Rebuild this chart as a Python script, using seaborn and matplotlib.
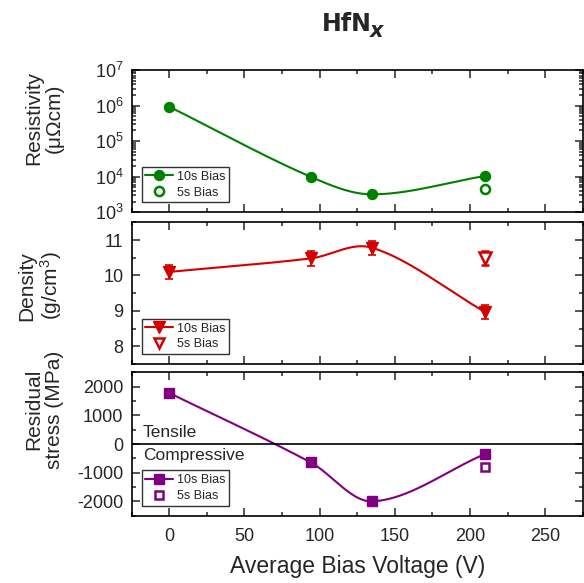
import numpy as np
import seaborn as sns
import matplotlib
matplotlib.use("Agg")
import matplotlib.pyplot as plt
from matplotlib.lines import Line2D
from matplotlib.ticker import LogLocator, MultipleLocator, NullFormatter

# data
bias = [0, 94, 135, 210]
bias_5s = [210]
resistivity = [9.3e5, 1.0e4, 3.2e3, 1.05e4]
resistivity_5s = [4.6e3]
density = [10.1, 10.48, 10.78, 8.97]
density_err = [0.2, 0.2, 0.2, 0.2]
density_5s = [10.5]
density_5s_err = [0.2]
stress = [1780, -640, -2000, -350]
stress_5s = [-800]

green = "#008000"
red = "#d40000"
purple = "#800080"

sns.set_style("ticks")
plt.rcParams["font.family"] = ["Liberation Sans", "DejaVu Sans"]
plt.rcParams["mathtext.fontset"] = "custom"
plt.rcParams["mathtext.rm"] = "Liberation Sans"
plt.rcParams["mathtext.it"] = "Liberation Sans:italic"
plt.rcParams["mathtext.bf"] = "Liberation Sans:bold"
plt.rcParams["axes.unicode_minus"] = False


def smooth(x, y, n=200):
    # cubic hermite through the points, tangents from neighbours
    x = np.asarray(x, float)
    y = np.asarray(y, float)
    m = np.zeros_like(y)
    m[0] = (y[1] - y[0]) / (x[1] - x[0])
    m[-1] = (y[-1] - y[-2]) / (x[-1] - x[-2])
    for k in range(1, len(x) - 1):
        m[k] = (y[k + 1] - y[k - 1]) / (x[k + 1] - x[k - 1])
    xs, ys = [], []
    for k in range(len(x) - 1):
        h = x[k + 1] - x[k]
        t = np.linspace(0, 1, n)
        h00 = 2 * t**3 - 3 * t**2 + 1
        h10 = t**3 - 2 * t**2 + t
        h01 = -2 * t**3 + 3 * t**2
        h11 = t**3 - t**2
        xs.append(x[k] + t * h)
        ys.append(h00 * y[k] + h10 * h * m[k] + h01 * y[k + 1] + h11 * h * m[k + 1])
    return np.concatenate(xs), np.concatenate(ys)


fig = plt.figure(figsize=(5.84, 5.83), dpi=100)
left, width = 0.2255, 0.7723
ax1 = fig.add_axes([left, 0.6358, width, 0.2441])
ax2 = fig.add_axes([left, 0.3756, width, 0.2431])
ax3 = fig.add_axes([left, 0.1154, width, 0.2460])

for ax in (ax1, ax2, ax3):
    ax.set_xlim(-25, 275)
    ax.xaxis.set_major_locator(MultipleLocator(50))
    ax.xaxis.set_minor_locator(MultipleLocator(25))
    ax.tick_params(which="both", direction="in", top=True, right=True,
                   width=1.1, labelsize=13, pad=6)
    ax.tick_params(which="major", length=6)
    ax.tick_params(which="minor", length=3)
    for s in ax.spines.values():
        s.set_linewidth(1.2)
        s.set_color("black")
    ax.grid(False)

ax1.tick_params(labelbottom=False)
ax2.tick_params(labelbottom=False)

lw = 1.5

# resistivity
xs, ys = smooth(bias, np.log10(resistivity))
sns.lineplot(x=xs, y=10**ys, ax=ax1, color=green, lw=lw, sort=False)
ax1.plot(bias, resistivity, "o", color=green, ms=7.2, ls="none")
ax1.plot(bias_5s, resistivity_5s, "o", mfc="white", mec=green, mew=1.8, ms=6.5, ls="none")
ax1.set_yscale("log")
ax1.set_ylim(1e3, 1e7)
ax1.yaxis.set_major_locator(LogLocator(base=10, numticks=10))
ax1.yaxis.set_minor_locator(LogLocator(base=10, subs=np.arange(2, 10), numticks=10))
ax1.yaxis.set_minor_formatter(NullFormatter())
ax1.set_ylabel("Resistivity\n(μΩcm)", fontsize=15, linespacing=1.1)
ax1.yaxis.set_label_coords(-0.15, 0.66)

# density
xs, ys = smooth(bias, density)
sns.lineplot(x=xs, y=ys, ax=ax2, color=red, lw=lw, sort=False)
ax2.errorbar(bias, density, yerr=density_err, fmt="v", color=red, ms=8.5,
             capsize=3, elinewidth=1.2, capthick=1.2)
ax2.errorbar(bias_5s, density_5s, yerr=density_5s_err, fmt="v", color=red,
             mfc="white", mec=red, mew=1.8, ms=8, capsize=3, elinewidth=1.2, capthick=1.2)
ax2.set_ylim(7.5, 11.5)
ax2.yaxis.set_major_locator(MultipleLocator(1))
ax2.yaxis.set_minor_locator(MultipleLocator(0.5))
ax2.set_ylabel("Density\n(g/cm$^3$)", fontsize=15, linespacing=1.1)
ax2.yaxis.set_label_coords(-0.15, 0.55)

# residual stress
xs, ys = smooth(bias, stress)
sns.lineplot(x=xs, y=ys, ax=ax3, color=purple, lw=lw, sort=False)
ax3.plot(bias, stress, "s", color=purple, ms=6.6, ls="none")
ax3.plot(bias_5s, stress_5s, "s", mfc="white", mec=purple, mew=1.8, ms=6, ls="none")
ax3.axhline(0, color="black", lw=1.2)
ax3.set_ylim(-2500, 2500)
ax3.yaxis.set_major_locator(MultipleLocator(1000))
ax3.yaxis.set_minor_locator(MultipleLocator(500))
ax3.set_ylabel("Residual\nstress (MPa)", fontsize=15, linespacing=1.1)
ax3.yaxis.set_label_coords(-0.15, 0.74)
ax3.text(0.025, 0.53, "Tensile", transform=ax3.transAxes, fontsize=12.5, va="bottom")
ax3.text(0.025, 0.47, "Compressive", transform=ax3.transAxes, fontsize=12.5, va="top")
ax3.set_xlabel("Average Bias Voltage (V)", fontsize=16.5, labelpad=7)
ax3.tick_params(axis="x", pad=9)

for ax, col, mk, ms in ((ax1, green, "o", 7.2), (ax2, red, "v", 8.5), (ax3, purple, "s", 6.6)):
    h1 = Line2D([], [], color=col, lw=lw, marker=mk, ms=ms)
    h2 = Line2D([], [], color=col, ls="none", marker=mk, mfc="white", mec=col, mew=1.8, ms=ms - 0.6)
    leg = ax.legend([h1, h2], ["10s Bias", "5s Bias"], loc="lower left",
                    bbox_to_anchor=(0.022, 0.07), borderaxespad=0, fontsize=9,
                    frameon=True, fancybox=False, edgecolor="black",
                    handlelength=2.2, handletextpad=0.35, borderpad=0.3,
                    labelspacing=0.3)
    leg.get_frame().set_linewidth(1.0)

fig.text(0.637, 0.947, "HfN", fontsize=17, fontweight="bold", family="DejaVu Sans",
         ha="right", va="baseline")
fig.text(0.634, 0.9365, "x", fontsize=15, fontweight="bold", style="italic",
         family="DejaVu Sans", ha="left", va="baseline")

fig.savefig("out.png", dpi=100)
